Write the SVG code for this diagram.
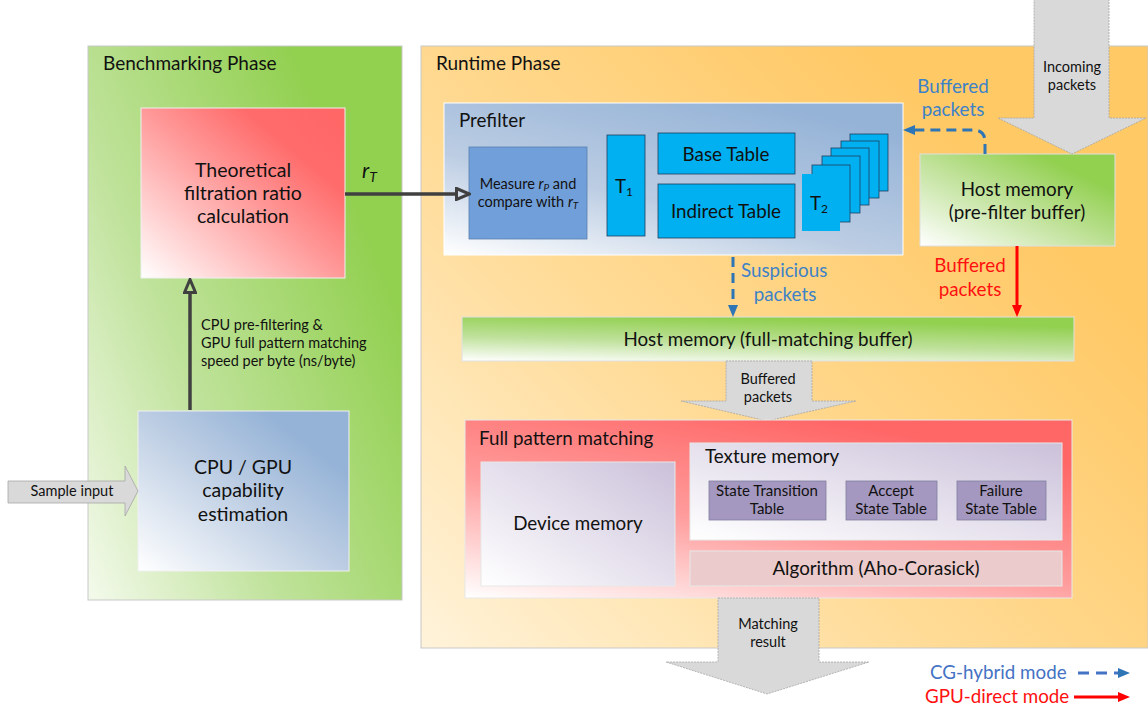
<svg xmlns="http://www.w3.org/2000/svg" width="1148" height="711" viewBox="0 0 1148 711">
<defs>
<style>
text{font-family:Lato,"Liberation Sans",sans-serif;fill:#111}
.h{font-size:19px}
.big{font-size:19.5px}
.mid{font-size:18.8px}
.sm{font-size:15px}
.xs{font-size:14.5px}
.c{text-anchor:middle}
.cyan{fill:#00B0F0;stroke:#1F3F5F;stroke-width:0.8}
.purp{fill:#A598C0;stroke:#7F7F9F;stroke-width:0.8}
.blk{fill:#D9D9D9;stroke:#A6A6A6;stroke-width:0.8;stroke-dasharray:2,1}
.bluetxt{fill:#3C82C8}
.redtxt{fill:#FF1010}
.dash{fill:none;stroke:#2E75B6;stroke-width:3;stroke-dasharray:10,6}
.red{fill:none;stroke:#FF0000;stroke-width:3}
.dark{fill:none;stroke:#404040;stroke-width:3.5}
</style>
<linearGradient id="gGreen" x1="0" y1="1" x2="1" y2="0">
<stop offset="0" stop-color="#FFFFFF"/><stop offset="0.45" stop-color="#C3E39E"/><stop offset="0.8" stop-color="#92D050"/><stop offset="1" stop-color="#92D050"/>
</linearGradient>
<linearGradient id="gPanelG" x1="0" y1="1" x2="0.9" y2="0.35">
<stop offset="0" stop-color="#F4FAEC"/><stop offset="0.45" stop-color="#BFE29A"/><stop offset="1" stop-color="#92D050"/>
</linearGradient>
<linearGradient id="gOrange" x1="0" y1="1" x2="0.85" y2="0.3">
<stop offset="0" stop-color="#FFF3DA"/><stop offset="0.5" stop-color="#FFDB96"/><stop offset="1" stop-color="#FFC966"/>
</linearGradient>
<linearGradient id="gRed" x1="0" y1="1" x2="1" y2="0">
<stop offset="0" stop-color="#FFFFFF"/><stop offset="0.5" stop-color="#FF9999"/><stop offset="0.75" stop-color="#FF6B6B"/><stop offset="1" stop-color="#FF6666"/>
</linearGradient>
<linearGradient id="gRed2" x1="0" y1="1" x2="0.6" y2="0">
<stop offset="0" stop-color="#FFFFFF"/><stop offset="0.5" stop-color="#FF9C9C"/><stop offset="1" stop-color="#FF6666"/>
</linearGradient>
<linearGradient id="gBlue" x1="0" y1="1" x2="1" y2="0">
<stop offset="0" stop-color="#FFFFFF"/><stop offset="0.5" stop-color="#BCCDE3"/><stop offset="0.8" stop-color="#95B3D7"/><stop offset="1" stop-color="#95B3D7"/>
</linearGradient>
<linearGradient id="gBlue2" x1="0" y1="1" x2="0.7" y2="0">
<stop offset="0" stop-color="#FFFFFF"/><stop offset="0.45" stop-color="#BCCDE3"/><stop offset="1" stop-color="#95B3D7"/>
</linearGradient>
<linearGradient id="gGreenBar" x1="0" y1="1" x2="0.35" y2="0">
<stop offset="0" stop-color="#FFFFFF"/><stop offset="0.5" stop-color="#BFE19B"/><stop offset="1" stop-color="#92D050"/>
</linearGradient>
<linearGradient id="gLav" x1="0" y1="1" x2="1" y2="0">
<stop offset="0" stop-color="#FFFFFF"/><stop offset="1" stop-color="#CBC1DA"/>
</linearGradient>
<marker id="mOpen" viewBox="0 0 16 14" refX="0" refY="7" markerWidth="16" markerHeight="14" markerUnits="userSpaceOnUse" orient="auto">
<path d="M1.5,1.5 L14.5,7 L1.5,12.5 Z" fill="none" stroke="#404040" stroke-width="3" stroke-linejoin="miter"/>
</marker>
<marker id="mBlue" viewBox="0 0 12 10" refX="0" refY="5" markerWidth="12" markerHeight="10" markerUnits="userSpaceOnUse" orient="auto">
<path d="M0,0 L12,5 L0,10 Z" fill="#2E75B6"/>
</marker>
<marker id="mRed" viewBox="0 0 12 10" refX="0" refY="5" markerWidth="12" markerHeight="10" markerUnits="userSpaceOnUse" orient="auto">
<path d="M0,0 L12,5 L0,10 Z" fill="#FF0000"/>
</marker>
</defs>

<rect width="1148" height="711" fill="#FFFFFF"/>

<g id="benchmarking-phase">
<rect x="88" y="46" width="314" height="554" fill="url(#gPanelG)" stroke="#C8C8C8" stroke-width="1"/>
<text class="h" x="103" y="70">Benchmarking Phase</text>
</g>

<g id="runtime-phase">
<rect x="421" y="46" width="727" height="602" fill="url(#gOrange)" stroke="#C8C8C8" stroke-width="1"/>
<text class="h" x="436" y="70">Runtime Phase</text>
</g>

<g id="theoretical">
<rect x="141" y="108" width="204" height="170" fill="url(#gRed)" stroke="#F0F0F0" stroke-width="1"/>
<text class="big c" x="243" y="177">Theoretical</text>
<text class="big c" x="243" y="200">filtration ratio</text>
<text class="big c" x="243" y="223">calculation</text>
</g>

<g id="capability">
<rect x="138" y="411" width="211" height="160" fill="url(#gBlue)" stroke="#F0F0F0" stroke-width="1"/>
<text class="big c" x="243" y="474">CPU / GPU</text>
<text class="big c" x="243" y="497">capability</text>
<text class="big c" x="243" y="521">estimation</text>
</g>

<g id="sample-input">
<path class="blk" d="M8,481 L125,481 L125,466 L138,491 L125,516 L125,503 L8,503 Z" style="stroke-dasharray:none"/>
<text class="xs c" x="72" y="496">Sample input</text>
</g>

<g id="prefilter">
<rect x="444" y="103" width="459" height="152" fill="url(#gBlue2)" stroke="#FFFFFF" stroke-width="1"/>
<text class="mid" x="459" y="127">Prefilter</text>
</g>

<g id="measure">
<rect x="469" y="147" width="118" height="92" fill="#719FD9" stroke="#5A7FAF" stroke-width="0.8"/>
<text class="xs c" x="528" y="189">Measure <tspan font-style="italic">r</tspan><tspan font-style="italic" font-size="10" dy="2">P</tspan><tspan dy="-2"> and</tspan></text>
<text class="xs c" x="528" y="207">compare with <tspan font-style="italic">r</tspan><tspan font-style="italic" font-size="10" dy="2">T</tspan></text>
</g>

<g id="t1">
<rect class="cyan" x="607" y="135" width="38" height="101"/>
<text class="mid c" x="624" y="193">T<tspan font-size="12" dy="3">1</tspan></text>
</g>

<g id="base-table">
<rect class="cyan" x="658" y="133" width="137" height="41"/>
<text class="mid c" x="726" y="161">Base Table</text>
</g>

<g id="indirect-table">
<rect class="cyan" x="658" y="184" width="137" height="54"/>
<text class="mid c" x="726" y="218">Indirect Table</text>
</g>

<g id="t2">
<rect class="cyan" x="850" y="134" width="38" height="57"/>
<rect class="cyan" x="841" y="141" width="38" height="57"/>
<rect class="cyan" x="831" y="148" width="38" height="57"/>
<rect class="cyan" x="822" y="156" width="38" height="57"/>
<rect class="cyan" x="812" y="165" width="38" height="57"/>
<rect x="802" y="174" width="38" height="57" fill="#00B0F0"/>
<text class="mid c" x="819" y="210">T<tspan font-size="12" dy="3">2</tspan></text>
</g>

<g id="host-prefilter">
<rect x="920" y="154" width="195" height="92" fill="url(#gGreen)" stroke="#E0E0E0" stroke-width="1"/>
<text class="mid c" x="1017" y="196">Host memory</text>
<text class="mid c" x="1017" y="219">(pre-filter buffer)</text>
</g>

<g id="incoming">
<path class="blk" d="M1034,-1 L1109,-1 L1109,118 L1146,118 L1072,154 L998,118 L1034,118 Z"/>
<text class="xs c" x="1072" y="72">Incoming</text>
<text class="xs c" x="1072" y="90">packets</text>
</g>

<g id="host-full">
<rect x="462" y="317" width="612" height="44" fill="url(#gGreenBar)" stroke="#E0E0E0" stroke-width="1"/>
<text class="mid c" x="768" y="346">Host memory (full-matching buffer)</text>
</g>

<g id="buffered-gray">
<path class="blk" d="M726,361 L812,361 L812,401 L856,401 L767,421 L681,401 L726,401 Z"/>
<text class="xs c" x="768" y="384">Buffered</text>
<text class="xs c" x="768" y="402">packets</text>
</g>

<g id="full-matching">
<rect x="465" y="420" width="607" height="178" fill="url(#gRed2)" stroke="#E8E8E8" stroke-width="1"/>
<text class="mid" x="479" y="445">Full pattern matching</text>
</g>

<g id="device-memory">
<rect x="481" y="462" width="194" height="124" fill="url(#gLav)" stroke="#E8E8E8" stroke-width="1"/>
<text class="mid c" x="578" y="530">Device memory</text>
</g>

<g id="texture-memory">
<rect x="690" y="443" width="372" height="97" fill="url(#gLav)" stroke="#E8E8E8" stroke-width="1"/>
<text class="mid" x="705" y="463">Texture memory</text>
</g>

<g id="state-transition">
<rect class="purp" x="709" y="481" width="117" height="39"/>
<text class="sm c" x="767" y="496">State Transition</text>
<text class="sm c" x="767" y="514">Table</text>
</g>

<g id="accept-state">
<rect class="purp" x="846" y="481" width="91" height="39"/>
<text class="sm c" x="891" y="496">Accept</text>
<text class="sm c" x="891" y="514">State Table</text>
</g>

<g id="failure-state">
<rect class="purp" x="957" y="481" width="89" height="39"/>
<text class="sm c" x="1001" y="496">Failure</text>
<text class="sm c" x="1001" y="514">State Table</text>
</g>

<g id="algorithm">
<rect x="690" y="551" width="372" height="35" fill="#EBCBCB" stroke="#E8E8E8" stroke-width="1"/>
<text class="mid c" x="876" y="575">Algorithm (Aho-Corasick)</text>
</g>

<g id="matching-result">
<path class="blk" d="M718,598 L819,598 L819,662 L869,662 L767,694 L666,662 L718,662 Z"/>
<text class="xs c" x="768" y="629">Matching</text>
<text class="xs c" x="768" y="647">result</text>
</g>

<g id="connectors">
<path class="dark" d="M345,194 L455,194" marker-end="url(#mOpen)"/>
<text x="362" y="178" font-size="21" font-style="italic" font-family="'Liberation Serif',serif">r<tspan font-size="14" dy="4" font-family="Lato,sans-serif">T</tspan></text>
<path class="dark" d="M190,410 L190,294" marker-end="url(#mOpen)"/>
<text class="xs" x="201" y="330">CPU pre-filtering &amp;</text>
<text class="xs" x="201" y="348">GPU full pattern matching</text>
<text class="xs" x="201" y="366">speed per byte (ns/byte)</text>

<path class="dash" d="M985,154 L985,142 Q985,130 973,130 L915,130" marker-end="url(#mBlue)"/>
<text class="mid c bluetxt" x="953" y="93">Buffered</text>
<text class="mid c bluetxt" x="953" y="116">packets</text>

<path class="dash" d="M733,257 L733,305" marker-end="url(#mBlue)"/>
<text class="mid bluetxt" x="741" y="277">Suspicious</text>
<text class="mid c bluetxt" x="785" y="301">packets</text>

<path class="red" d="M1017,246 L1017,305" marker-end="url(#mRed)"/>
<text class="mid c redtxt" x="970" y="272">Buffered</text>
<text class="mid c redtxt" x="970" y="296">packets</text>
</g>

<g id="legend">
<text class="mid bluetxt" x="930" y="679" style="fill:#4472C4">CG-hybrid mode</text>
<path class="dash" d="M1078,673 L1118,673" style="stroke:#4472C4;stroke-dasharray:11,7" marker-end="url(#mBlue)"/>
<text class="mid redtxt" x="925" y="703">GPU-direct mode</text>
<path class="red" d="M1074,697 L1118,697" marker-end="url(#mRed)"/>
</g>
</svg>
